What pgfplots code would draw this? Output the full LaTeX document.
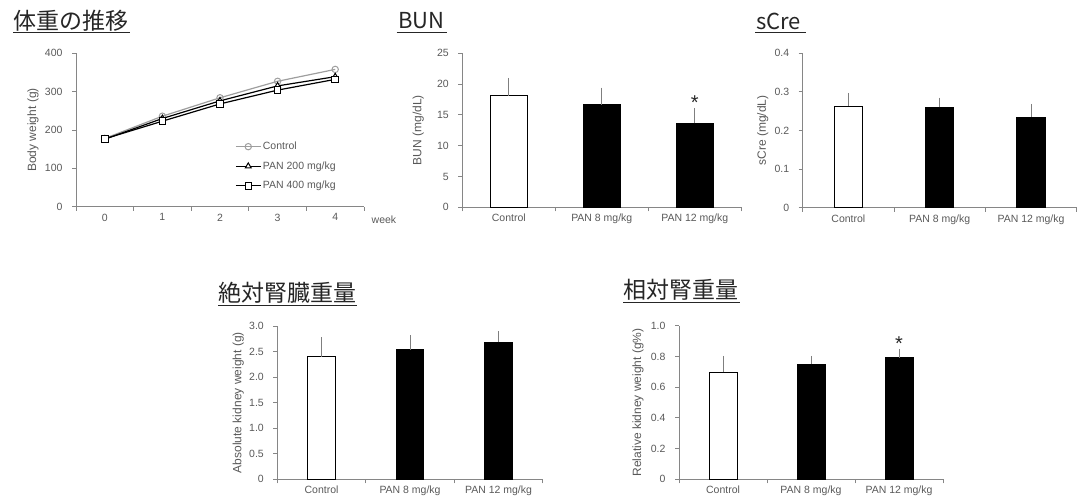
\documentclass[border=0pt]{standalone}
\usepackage{pgfplots}
\pgfplotsset{compat=1.18}
\usepackage{fontspec}
\setmainfont{Noto Sans CJK JP}
\newfontfamily\lat{Liberation Sans}
\definecolor{axgray}{HTML}{868686}
\definecolor{txtgray}{HTML}{595959}
\definecolor{errgray}{HTML}{7F7F7F}
\definecolor{ctrlgray}{HTML}{9E9E9E}
\definecolor{titlec}{HTML}{262626}
\pgfplotsset{
 ylab/.style={every axis y label/.style={at={([xshift=-#1]axis description cs:0,0.5)},rotate=90,anchor=center,
   font=\lat\fontsize{12}{13}\selectfont, text=txtgray}},
 mybase/.style={
   scale only axis, anchor=south west, clip=false,
   axis x line*=bottom, axis y line*=left,
   axis line style={draw=axgray, line width=0.8pt, -},
   tick style={draw=axgray, line width=0.8pt},
   tick align=outside, major tick length=4pt,
   ticklabel style={font=\lat\fontsize{10.5}{12}\selectfont, text=txtgray},
   yticklabel style={xshift=-6pt},
   /pgf/number format/assume math mode=true,
 },
 mybar/.style={
   mybase, xmin=-0.5, xmax=2.5, ymin=0,
   xtick={-0.5,0.5,1.5,2.5}, xticklabels={},
   extra x ticks={0,1,2},
   extra x tick labels={Control, PAN 8 mg/kg, PAN 12 mg/kg},
   extra x tick style={major tick length=0pt, xticklabel style={yshift=-3.5pt}},
 },
 errs/.style={error bars/.cd, y dir=plus, y explicit,
   error bar style={draw=errgray, line width=0.8pt},
   error mark options={draw=errgray, line width=0.8pt, mark size=3.5pt}},
 cbar/.style={ybar, bar shift=0pt, bar width=#1, fill=white, draw=black, line width=0.8pt},
 bbar/.style={ybar, bar shift=0pt, bar width=#1, fill=black, draw=black, line width=0.8pt},
}
\begin{document}
\begin{tikzpicture}
\useasboundingbox (0,0) rectangle (1078pt,500pt);

% ---------- Body weight ----------
\begin{axis}[mybase, at={(76pt,293.3pt)}, width=288pt, height=153.4pt,
  xmin=-0.5, xmax=4.5, ymin=0, ymax=400,
  xtick={-0.5,0.5,...,4.5}, xticklabels={},
  extra x ticks={0,1,2,3,4}, extra x tick labels={0,1,2,3,4},
  extra x tick style={major tick length=0pt, xticklabel style={yshift=-3.5pt}},
  ytick={0,100,...,400},
  ylabel={Body weight (g)}, ylab=43pt,
  legend style={draw=none, fill=none, at={(0.552,0.432)}, anchor=north west,
    font=\lat\fontsize{10.5}{12}\selectfont, text=txtgray, row sep=7.5pt, inner sep=0pt,
    nodes={inner sep=1.5pt}},
  legend cell align=left,
  legend image code/.code={\draw[mark repeat=2,mark phase=2,#1] plot coordinates {(0pt,0pt) (12.5pt,0pt) (25pt,0pt)};},
]
\addplot[draw=ctrlgray, line width=1.2pt, mark=o, mark size=3.2pt, mark options={fill=white, draw=ctrlgray, line width=1pt}]
  coordinates {(0,178) (1,236) (2,284) (3,327) (4,358)};
\addlegendentry{Control}
\addplot[draw=black, line width=1.2pt, mark=triangle*, mark size=3.4pt, mark options={fill=white, draw=black, line width=1pt}]
  coordinates {(0,176) (1,230) (2,276) (3,315) (4,339)};
\addlegendentry{PAN 200 mg/kg}
\addplot[draw=black, line width=1.2pt, mark=square*, mark size=3.2pt, mark options={fill=white, draw=black, line width=1pt}]
  coordinates {(0,177) (1,223) (2,268) (3,304) (4,332)};
\addlegendentry{PAN 400 mg/kg}
\end{axis}
\node[anchor=west, inner sep=0pt, font=\lat\fontsize{10.5}{12}\selectfont, text=txtgray] at (371.5pt,280pt) {week};

% ---------- BUN ----------
\begin{axis}[mybar, at={(462.3pt,292.7pt)}, width=279pt, height=154pt,
  ymax=25, ytick={0,5,...,25}, ylabel={BUN (mg/dL)}, ylab=44pt]
\addplot[cbar=0.4, errs] coordinates {(0,18.13) +- (0,2.3)};
\addplot[bbar=0.4, errs] coordinates {(1,16.67) +- (0,2.2)};
\addplot[bbar=0.4, errs] coordinates {(2,13.64) +- (0,1.94)};
\node[font=\lat\fontsize{20}{20}\selectfont, text=titlec, inner sep=0pt] at (axis cs:2,17.0) {*};
\end{axis}

% ---------- sCre ----------
\begin{axis}[mybar, at={(802.7pt,292.3pt)}, width=274pt, height=154.4pt,
  ymax=0.4, ytick={0,0.1,0.2,0.3,0.4}, yticklabels={0,0.1,0.2,0.3,0.4},
  ylabel={sCre (mg/dL)}, ylab=40pt]
\addplot[cbar=0.31, errs] coordinates {(0,0.2635) +- (0,0.025)};
\addplot[bbar=0.31, errs] coordinates {(1,0.260) +- (0,0.0164)};
\addplot[bbar=0.31, errs] coordinates {(2,0.235) +- (0,0.025)};
\end{axis}

% ---------- Absolute kidney weight ----------
\begin{axis}[mybar, at={(277.3pt,20.7pt)}, width=265.5pt, height=153.3pt,
  ymax=3, ytick={0,0.5,1,1.5,2,2.5,3}, yticklabels={0,0.5,1.0,1.5,2.0,2.5,3.0},
  ylabel={Absolute kidney weight (g)}, ylab=39pt]
\addplot[cbar=0.31, errs] coordinates {(0,2.40) +- (0,0.31)};
\addplot[bbar=0.31, errs] coordinates {(1,2.54) +- (0,0.21)};
\addplot[bbar=0.31, errs] coordinates {(2,2.68) +- (0,0.15)};
\end{axis}

% ---------- Relative kidney weight ----------
\begin{axis}[mybar, at={(679pt,20.7pt)}, width=264pt, height=153.6pt,
  ymax=1, ytick={0,0.2,0.4,0.6,0.8,1}, yticklabels={0,0.2,0.4,0.6,0.8,1.0},
  ylabel={Relative kidney weight (g\%)}, ylab=41pt]
\addplot[cbar=0.32, errs] coordinates {(0,0.698) +- (0,0.083)};
\addplot[bbar=0.32, errs] coordinates {(1,0.748) +- (0,0.033)};
\addplot[bbar=0.32, errs] coordinates {(2,0.792) +- (0,0.034)};
\node[font=\lat\fontsize{20}{20}\selectfont, text=titlec, inner sep=0pt] at (axis cs:2,0.884) {*};
\end{axis}

% ---------- Titles ----------
\begin{scope}[every node/.style={anchor=base west, inner sep=0pt, text=titlec}]
\node[font=\fontsize{23}{23}\selectfont] at (13pt,470pt) {体重の推移};
\node[font=\fontsize{22}{22}\selectfont] at (398pt,471pt) {BUN};
\node[font=\fontsize{22}{22}\selectfont] at (756pt,470.7pt) {sCre};
\node[font=\fontsize{23}{23}\selectfont] at (218pt,198.3pt) {絶対腎臓重量};
\node[font=\fontsize{23}{23}\selectfont] at (623pt,201.6pt) {相対腎重量};
\end{scope}
\begin{scope}[draw=titlec, line width=0.9pt]
\draw (13pt,467.7pt) -- (130pt,467.7pt);
\draw (396.7pt,467.7pt) -- (447pt,467.7pt);
\draw (755pt,467.7pt) -- (806pt,467.7pt);
\draw (218pt,195pt) -- (357pt,195pt);
\draw (623pt,198pt) -- (740pt,198pt);
\end{scope}
\end{tikzpicture}
\end{document}
